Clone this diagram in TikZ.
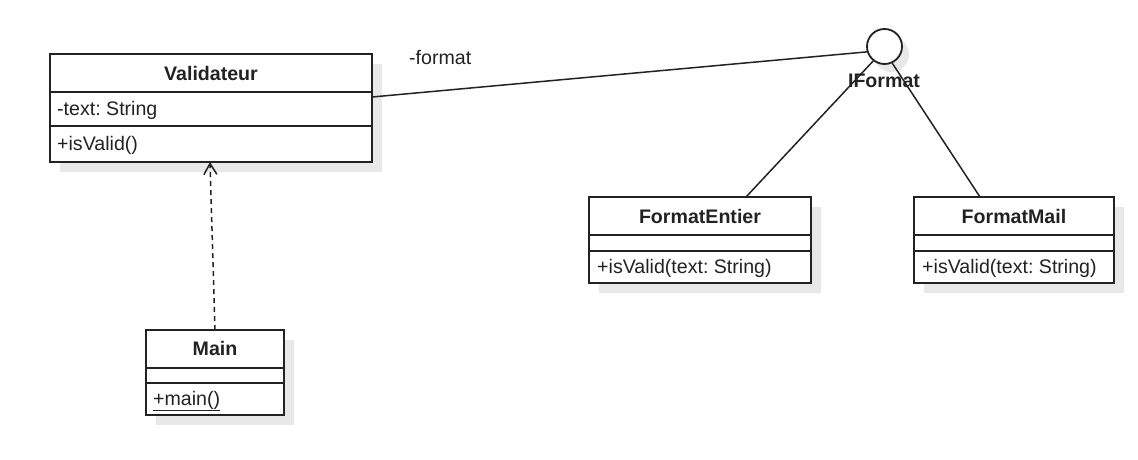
\documentclass[tikz,border=0pt]{standalone}
\usepackage{fontspec}
\setmainfont{Liberation Sans}
\frenchspacing
\usetikzlibrary{arrows.meta,shadows}
\definecolor{shadowgray}{HTML}{E8E8E8}
\definecolor{ink}{HTML}{222222}
\tikzset{
  classbox/.style={draw=ink, line width=1.8pt, fill=white, inner sep=0pt,
    drop shadow={shadow xshift=10pt, shadow yshift=-10pt, fill=shadowgray, opacity=1}},
  divider/.style={draw=ink, line width=1.8pt},
  ctitle/.style={font=\fontsize{19.6}{22}\selectfont\bfseries, text=ink, anchor=base, inner sep=0pt},
  member/.style={font=\fontsize{19.6}{22}\selectfont, text=ink, anchor=base west, inner sep=0pt},
  assoc/.style={draw=ink, line width=1.5pt},
  depend/.style={draw=ink, line width=1.5pt, dash pattern=on 5pt off 4pt,
    -{Straight Barb[length=11pt,width=13pt,line width=1.5pt]}},
  iface/.style={circle, draw=ink, line width=1.8pt, fill=white, minimum size=35pt, inner sep=0pt,
    drop shadow={shadow xshift=7pt, shadow yshift=-8pt, fill=shadowgray, opacity=1}}
}
\begin{document}
\begin{tikzpicture}[x=1pt,y=-1pt]
\useasboundingbox (0,0) rectangle (1138,460);

% Validateur
\node[classbox, minimum width=322pt, minimum height=108pt] (val) at (211,108) {};
\draw[divider] (val.west |- 0,92) -- (val.east |- 0,92);
\draw[divider] (val.west |- 0,126) -- (val.east |- 0,126);
\node[ctitle] (valT) at (211,81) {Validateur};
\node[member] (valA) at (57,115) {-text: String};
\node[member] (valM) at (57,150) {+isValid()};

% Main
\node[classbox, minimum width=138pt, minimum height=85pt] (main) at (215,372.5) {};
\draw[divider] (main.west |- 0,368) -- (main.east |- 0,368);
\draw[divider] (main.west |- 0,383) -- (main.east |- 0,383);
\node[ctitle] (mainT) at (215,355) {Main};
\node[member] (mainM) at (153,405) {\underline{+main()}};

% FormatEntier
\node[classbox, minimum width=222pt, minimum height=86pt] (fe) at (700,240) {};
\draw[divider] (fe.west |- 0,235) -- (fe.east |- 0,235);
\draw[divider] (fe.west |- 0,251) -- (fe.east |- 0,251);
\node[ctitle] (feT) at (700,223) {FormatEntier};
\node[member] (feM) at (597,273) {+isValid(text: String)};

% FormatMail
\node[classbox, minimum width=200pt, minimum height=86pt] (fm) at (1014,240) {};
\draw[divider] (fm.west |- 0,235) -- (fm.east |- 0,235);
\draw[divider] (fm.west |- 0,251) -- (fm.east |- 0,251);
\node[ctitle] (fmT) at (1014,223) {FormatMail};
\node[member] (fmM) at (922,273) {+isValid(text: String)};

% Interface
\node[iface] (if) at (884.5,46.5) {};
\node[ctitle] (ifT) at (884,88) {IFormat};

% connectors
\coordinate (valR) at (372,97);
\coordinate (feTop) at (746,197);
\coordinate (fmTop) at (980,197);
\coordinate (mainTop) at (215,330);
\coordinate (valBot) at (210,162);
\draw[assoc] (valR) -- (if.197);
\node[member] (fmtLbl) at (409,65) {-format};
\draw[assoc] (if.232) -- (feTop);
\draw[assoc] (if.295) -- (fmTop);
\draw[depend] (mainTop) -- (valBot);
\end{tikzpicture}
\end{document}
